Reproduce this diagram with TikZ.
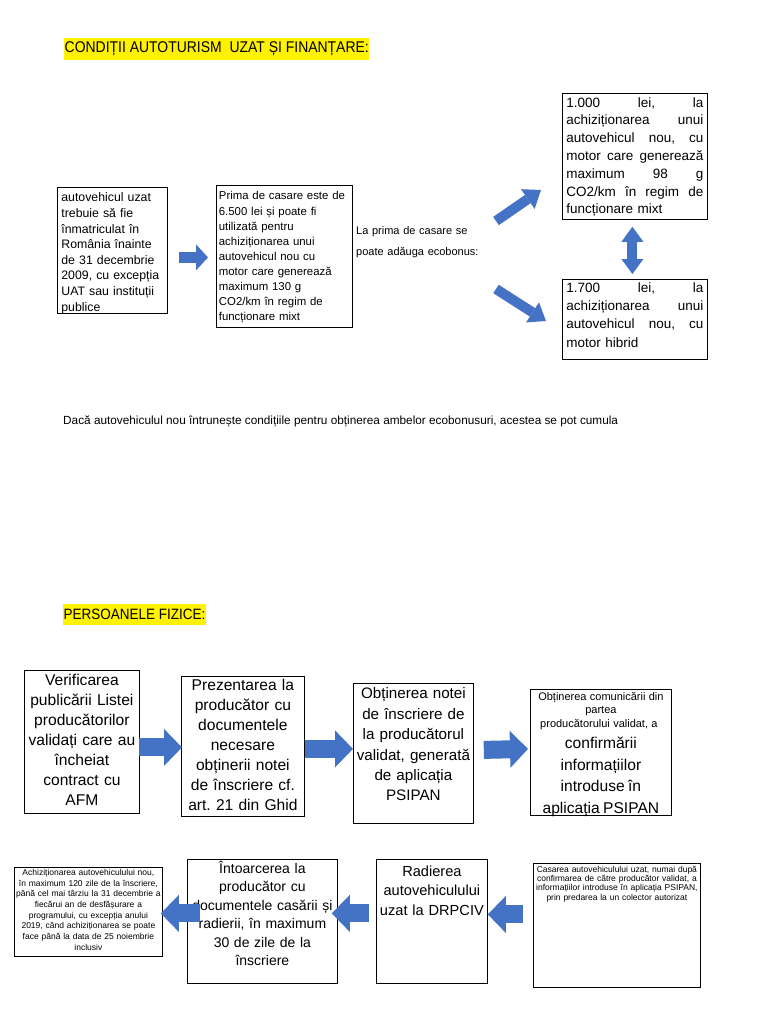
\documentclass[tikz,border=0pt]{standalone}
\usepackage{fontspec}
\setmainfont{Liberation Sans}
\newfontfamily\narrowsans[FakeStretch=0.9]{Liberation Sans}
\usetikzlibrary{arrows.meta,calc}
\definecolor{arrowblue}{RGB}{68,114,196}
\frenchspacing
\newcommand{\jline}[1]{\makebox[137pt][l]{#1}}
\begin{document}
\begin{tikzpicture}[x=1pt,y=-1pt,
  box/.style={draw=black, line width=0.8pt, inner ysep=0pt, anchor=north west},
  hilite/.style={fill=yellow, inner xsep=0.5pt, inner ysep=0pt, anchor=west},
  bigarrow/.style={draw=arrowblue, line width=18pt, -{Triangle[line width=0pt,length=18pt,width=37pt]}},
  midarrow/.style={draw=arrowblue, line width=10pt, -{Triangle[line width=0pt,length=16pt,width=24pt]}},
  smallarrow/.style={draw=arrowblue, line width=11pt, -{Triangle[line width=0pt,length=12pt,width=26pt]}},
  dblarrow/.style={draw=arrowblue, line width=10pt, {Triangle[line width=0pt,length=15pt,width=22pt]}-{Triangle[line width=0pt,length=15pt,width=22pt]}}]
\fill[white] (0,0) rectangle (768,1024);
\useasboundingbox (0,0) rectangle (768,1024);

% ---------- top section ----------
\node[hilite, minimum height=22pt, font=\narrowsans\fontsize{15.5}{18}\selectfont] (t1) at (64,49) {CONDIȚII AUTOTURISM\ \ UZAT ȘI FINANȚARE:};

\node[box, align=left, text width=102pt, inner xsep=4pt, text height=14.5pt, text depth=111.5pt,
      font=\fontsize{12.3}{15.6}\selectfont] (bA) at (57,187)
  {autovehicul uzat\\trebuie să fie\\înmatriculat în\\România înainte\\de 31 decembrie\\2009, cu excepția\\UAT sau instituții\\publice};

\node[box, align=left, text width=131pt, inner xsep=2.5pt, text height=14.5pt, text depth=127.5pt,
      font=\fontsize{11.4}{15.1}\selectfont] (bB) at (216,185)
  {Prima de casare este de\\6.500 lei și poate fi\\utilizată pentru\\achiziționarea unui\\autovehicul nou cu\\motor care generează\\maximum 130 g\\CO2/km în regim de\\funcționare mixt};

\node[anchor=north west, align=left, text width=125pt, inner sep=0pt, text height=8pt, font=\fontsize{11}{21}\selectfont] (lp) at (356,226)
  {La prima de casare se\\poate adăuga ecobonus:};

\node[box, align=left, text width=137pt, inner xsep=4pt, text height=13.7pt, text depth=112.3pt,
      font=\fontsize{13.5}{17.8}\selectfont] (bC) at (562,93)
  {\jline{1.000\hfill lei,\hfill la}\\
   \jline{achiziționarea\hfill unui}\\
   \jline{autovehicul\hfill nou,\hfill cu}\\
   \jline{motor\hfill care\hfill generează}\\
   \jline{maximum\hfill 98\hfill g}\\
   \jline{CO2/km\hfill în\hfill regim\hfill de}\\
   funcționare mixt};

\node[box, align=left, text width=137pt, inner xsep=4pt, text height=12.8pt, text depth=67.2pt,
      font=\fontsize{13.5}{18.3}\selectfont] (bD) at (562,279)
  {\jline{1.700\hfill lei,\hfill la}\\
   \jline{achiziționarea\hfill unui}\\
   \jline{autovehicul\hfill nou,\hfill cu}\\
   motor hibrid};

\coordinate (u0) at (496,221);
\coordinate (u1) at (541,190);
\coordinate (v0) at (496,289);
\coordinate (v1) at (546,321);

\draw[smallarrow] ($(bA.east)+(11,7)$) -- ($(bB.west)+(-8,1)$);
\draw[midarrow] (u0) -- (u1);
\draw[midarrow] (v0) -- (v1);
\draw[dblarrow] ($(bC.south)+(-2.5,7)$) -- ($(bD.north)+(-2.5,-5)$);

\node[anchor=base west, inner sep=0pt, font=\fontsize{11.8}{14}\selectfont] (note) at (63,424)
  {Dacă autovehiculul nou întrunește condițiile pentru obținerea ambelor ecobonusuri, acestea se pot cumula};

% ---------- persoane fizice ----------
\node[hilite, minimum height=21pt, font=\narrowsans\fontsize{15}{18}\selectfont] (t2) at (63,614.5) {PERSOANELE FIZICE:};

\node[box, align=center, text width=113pt, inner xsep=1pt, text height=15.5pt, text depth=127.5pt,
      font=\fontsize{15.6}{20}\selectfont] (b1) at (24,670)
  {Verificarea\\publicării Listei\\producătorilor\\validați care au\\încheiat\\contract cu\\AFM};

\node[box, align=center, text width=121pt, inner xsep=1pt, text height=14.5pt, text depth=125.5pt,
      font=\fontsize{15.6}{20}\selectfont] (b2) at (181,676)
  {Prezentarea la\\producător cu\\documentele\\necesare\\obținerii notei\\de înscriere cf.\\art. 21 din Ghid};

\node[box, align=center, text width=119pt, inner xsep=0.5pt, text height=15.5pt, text depth=124.5pt,
      font=\fontsize{15.2}{20.4}\selectfont] (b3) at (353,683)
  {Obținerea notei\\de înscriere de\\la producătorul\\validat, generată\\de aplicația\\PSIPAN};

\node[box, align=center, text width=139pt, inner xsep=1pt, text height=11pt, text depth=115pt] (b4) at (530,689)
  {{\fontsize{11}{13.5}\selectfont Obținerea comunicării din\hspace*{10pt}\\partea\hspace*{10pt}\\producătorului validat, a\hspace*{4pt}\par}
   {\fontsize{15.6}{21.5}\selectfont confirmării\\informațiilor\\introduse în\\aplicația PSIPAN\par}};

\node[box, align=center, text width=146pt, inner xsep=1pt, text height=8pt, text depth=81pt,
      font=\fontsize{8.5}{10.7}\selectfont] (b5) at (14,867)
  {Achiziționarea autovehiculului nou,\\în maximum 120 zile de la înscriere,\\până cel mai târziu la 31 decembrie a\\fiecărui an de desfășurare a\\programului, cu excepția anului\\2019, când achiziționarea se poate\\face până la data de 25 noiembrie\\inclusiv};

\node[box, align=center, text width=148pt, inner xsep=1pt, text height=14pt, text depth=110pt,
      font=\fontsize{14}{18.4}\selectfont] (b6) at (187,859)
  {Întoarcerea la\\producător cu\\documentele casării și\\radierii, în maximum\\30 de zile de la\\înscriere};

\node[box, align=center, text width=109pt, inner xsep=1pt, text height=17pt, text depth=107pt,
      font=\fontsize{14.6}{19.5}\selectfont] (b7) at (376,859)
  {Radierea\\autovehiculului\\uzat la DRPCIV};

\node[box, align=center, text width=165pt, inner xsep=1pt, text height=9pt, text depth=115pt,
      font=\fontsize{8.5}{9.2}\selectfont] (b8) at (533,863)
  {Casarea autovehiculului uzat, numai după\\confirmarea de către producător validat, a\\informațiilor introduse în aplicația PSIPAN,\\prin predarea la un colector autorizat};

\draw[bigarrow] ($(b1.east)+(-1,5.5)$) -- ($(b2.west)+(1,1)$);
\draw[bigarrow] ($(b2.east)+(0,2.5)$) -- ($(b3.west)+(0,-4.5)$);
\draw[bigarrow] ($(b3.east)+(10,-3.5)$) -- ($(b4.west)+(-2,-3.5)$);

\draw[bigarrow] ($(b6.west)+(13,-8)$) -- ($(b5.east)+(-2,1.5)$);
\draw[bigarrow] ($(b7.west)+(-7,-8)$) -- ($(b6.east)+(-6,-8)$);
\draw[bigarrow] ($(b8.west)+(-10,-11)$) -- ($(b7.east)+(0,-7)$);
\end{tikzpicture}
\end{document}
